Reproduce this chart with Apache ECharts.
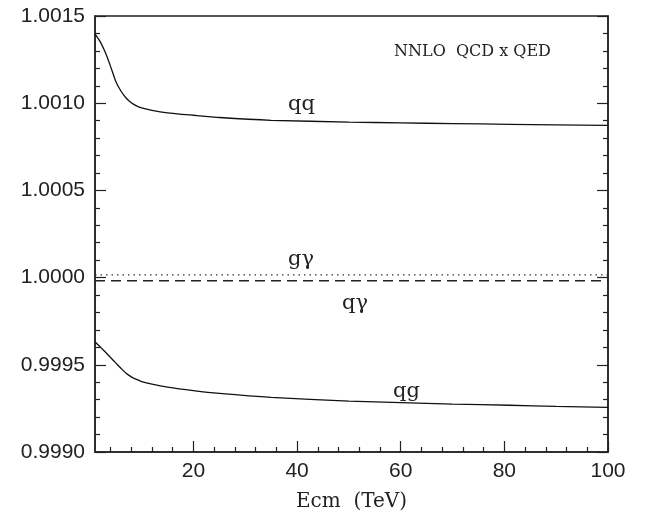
<!DOCTYPE html>
<html>
<head>
<meta charset="utf-8">
<script src="https://cdn.jsdelivr.net/npm/echarts@6/dist/echarts.min.js"></script>
<style>
  html, body { margin: 0; padding: 0; background: #fff; }
  #chart { width: 650px; height: 517px; }
</style>
</head>
<body>
<div id="chart"></div>
<script>
// Ecm (TeV) sample points
var qqX = [1, 2, 3, 4, 5, 6, 7, 8, 9, 10, 12, 15, 20, 25, 35, 50, 60, 70, 81, 90, 100];
var qqY = [1.001398, 1.001353, 1.001290, 1.001211, 1.001126, 1.001070, 1.001030, 1.001002, 1.000985, 1.000973, 1.000959, 1.000945, 1.000931, 1.000918, 1.000902, 1.000892, 1.000887, 1.000883, 1.000879, 1.000876, 1.000873];

var qgX = [1, 2, 3, 4, 5, 6, 7, 8, 9, 10, 12, 15, 20, 25, 35, 50, 60, 70, 81, 90, 100];
var qgY = [0.999632, 0.999603, 0.999573, 0.999542, 0.999511, 0.999480, 0.999451, 0.999431, 0.999416, 0.999404, 0.999389, 0.999372, 0.999352, 0.999336, 0.999313, 0.999292, 0.999283, 0.999275, 0.999268, 0.999262, 0.999256];

var gaX = [1, 100];
var gaY = [1.000016, 1.000016];   // g gamma, dotted
var qaX = [1, 100];
var qaY = [0.999982, 0.999982];   // q gamma, dashed

var xMajor = [20, 40, 60, 80, 100];
var xMinor = [4, 8, 12, 16, 24, 28, 32, 36, 44, 48, 52, 56, 64, 68, 72, 76, 84, 88, 92, 96];

function pairs(xs, ys) {
    return xs.map(function (x, i) { return [x, ys[i]]; });
}

var myChart = echarts.init(document.getElementById('chart'));

var axisCol = '#222';
var tickFont = { fontFamily: 'Liberation Sans', fontSize: 21, color: '#222' };

option = {
    animation: false,
    backgroundColor: '#fff',
    grid: {
        left: 95, right: 42, top: 16, bottom: 60,
        show: true, borderColor: axisCol, borderWidth: 1.5
    },
    xAxis: [
        {
            type: 'value', min: 1, max: 100, position: 'bottom',
            axisLine: { show: true, lineStyle: { color: axisCol, width: 1.5 } },
            axisTick: { show: true, inside: true, length: 11, customValues: xMajor, lineStyle: { color: axisCol, width: 1.2 } },
            axisLabel: Object.assign({ customValues: xMajor, margin: 9 }, tickFont),
            splitLine: { show: false },
            name: 'Ecm  (TeV)', nameLocation: 'middle', nameGap: 40,
            nameTextStyle: { fontFamily: 'DejaVu Serif', fontSize: 20, color: '#222' }
        },
        {
            type: 'value', min: 1, max: 100, position: 'bottom',
            axisLine: { show: false },
            axisTick: { show: true, inside: true, length: 5, customValues: xMinor, lineStyle: { color: axisCol, width: 1.2 } },
            axisLabel: { show: false },
            splitLine: { show: false }
        }
    ],
    yAxis: [
        {
            type: 'value', min: 0.999, max: 1.0015, interval: 0.0005, position: 'left',
            axisLine: { show: true, lineStyle: { color: axisCol, width: 1.5 } },
            axisTick: { show: true, inside: true, length: 11, lineStyle: { color: axisCol, width: 1.2 } },
            minorTick: { show: true, splitNumber: 5, length: 5, lineStyle: { color: axisCol, width: 1.2 } },
            axisLabel: Object.assign({ margin: 10, formatter: function (v) { return v.toFixed(4); } }, tickFont),
            splitLine: { show: false }
        },
        {
            type: 'value', min: 0.999, max: 1.0015, interval: 0.0005, position: 'right',
            axisLine: { show: true, lineStyle: { color: axisCol, width: 1.5 } },
            axisTick: { show: true, inside: true, length: 11, lineStyle: { color: axisCol, width: 1.2 } },
            minorTick: { show: true, splitNumber: 5, length: 5, lineStyle: { color: axisCol, width: 1.2 } },
            axisLabel: { show: false },
            splitLine: { show: false }
        }
    ],
    series: [
        {
            name: 'qq', type: 'line', data: pairs(qqX, qqY), smooth: 0.2,
            showSymbol: false, lineStyle: { color: '#111', width: 1.3 }
        },
        {
            name: 'qg', type: 'line', data: pairs(qgX, qgY), smooth: 0.2,
            showSymbol: false, lineStyle: { color: '#111', width: 1.3 }
        },
        {
            name: 'gγ', type: 'line', data: pairs(gaX, gaY),
            showSymbol: false, lineStyle: { color: '#333', width: 1.3, type: [1.5, 4] }
        },
        {
            name: 'qγ', type: 'line', data: pairs(qaX, qaY),
            showSymbol: false, lineStyle: { color: '#222', width: 1.3, type: [10, 6] }
        }
    ],
    graphic: [
        { type: 'text', left: 288, top: 94, style: { text: 'qq', font: '21px "DejaVu Serif"', fill: '#222' } },
        { type: 'text', left: 288, top: 249, style: { text: 'gγ', font: '21px "DejaVu Serif"', fill: '#222' } },
        { type: 'text', left: 342, top: 293, style: { text: 'qγ', font: '21px "DejaVu Serif"', fill: '#222' } },
        { type: 'text', left: 393, top: 381, style: { text: 'qg', font: '21px "DejaVu Serif"', fill: '#222' } },
        { type: 'text', left: 394, top: 44, style: { text: 'NNLO  QCD x QED', font: '16px "DejaVu Serif"', fill: '#222' } }
    ]
};

myChart.setOption(option);
</script>
</body>
</html>
